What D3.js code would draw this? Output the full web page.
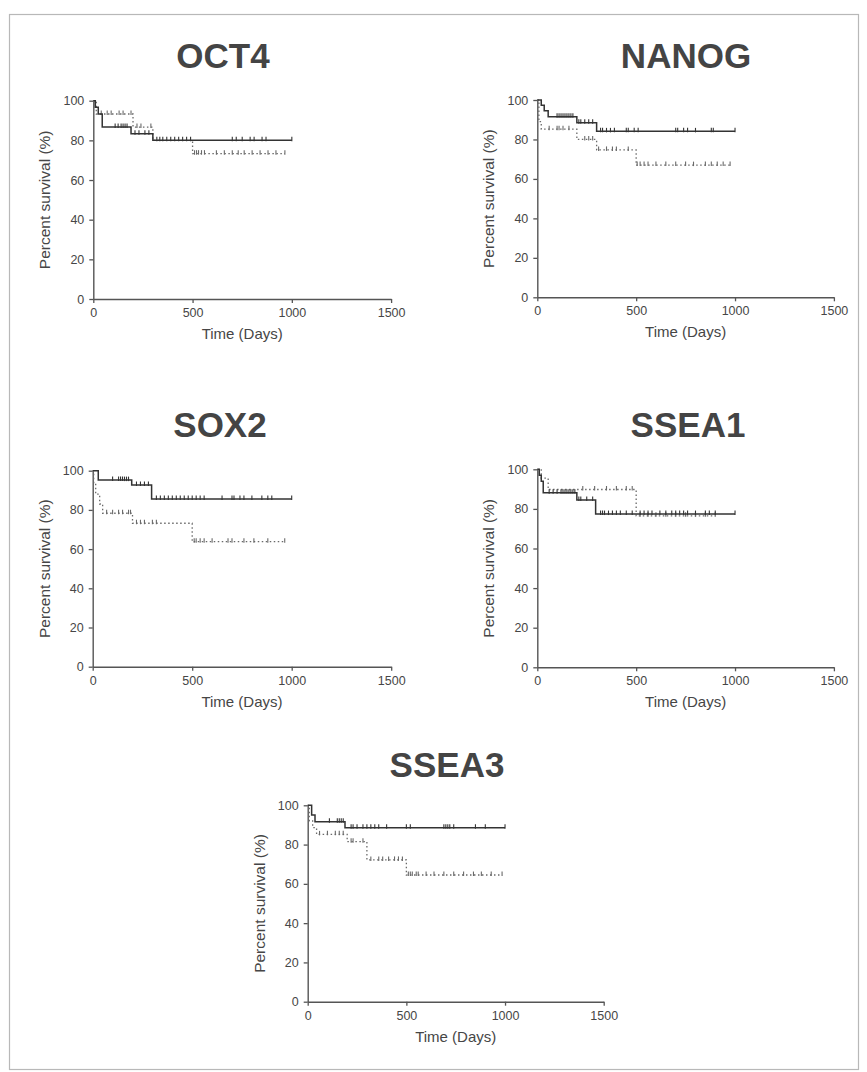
<!DOCTYPE html>
<html>
<head>
<meta charset="utf-8">
<script src="https://cdn.jsdelivr.net/npm/d3@7"></script>
<style>
  html, body { margin: 0; padding: 0; background: #fff; }
  svg { display: block; }
  text { font-family: "Liberation Sans", Arial, sans-serif; fill: #464646; }
</style>
</head>
<body>
<svg id="chart" width="867" height="1072"></svg>
<script>
// ---------------- DATA ----------------
const panelNames = ["OCT4", "NANOG", "SOX2", "SSEA1", "SSEA3"];
const xTicks = [0, 500, 1000, 1500];
const yTicks = [0, 20, 40, 60, 80, 100];
const xLabel = "Time (Days)";
const yLabel = "Percent survival (%)";

// Kaplan-Meier steps: [time, percent survival]; last point = end of follow-up
const oct4Solid  = [[0,100],[10,96.7],[25,93.3],[45,86.7],[190,83.3],[300,80],[1000,80]];
const oct4Dotted = [[0,100],[15,93.3],[200,86.7],[300,80],[500,73.3],[965,73.3]];
const oct4SolidCensor  = [110,125,140,150,160,170,210,230,260,280,320,335,350,370,390,410,430,450,470,490,700,720,750,790,810,850,870,1000];
const oct4DottedCensor = [40,70,90,130,150,190,220,240,290,510,520,530,545,560,620,660,700,730,760,800,840,880,920,965];

const nanogSolid  = [[0,100],[20,97.3],[35,94.6],[55,91.5],[200,88.5],[300,84.1],[1000,84.1]];
const nanogDotted = [[0,100],[8,89],[20,85.2],[200,80],[300,74.7],[500,67],[975,67]];
const nanogSolidCensor  = [100,110,120,130,140,150,160,170,180,210,220,240,260,280,320,330,350,370,390,450,460,490,510,700,710,740,760,800,880,890,1000];
const nanogDottedCensor = [60,100,110,130,160,240,260,280,310,350,380,400,460,505,520,540,560,600,650,700,750,790,850,880,910,940,975];

const sox2Solid  = [[0,100],[28,95.2],[196,92.7],[296,85.6],[1000,85.6]];
const sox2Dotted = [[0,100],[5,93],[15,88],[35,83],[50,78.3],[200,73.2],[500,63.8],[965,63.8]];
const sox2SolidCensor  = [100,130,140,150,160,170,180,220,240,260,280,320,340,360,380,400,420,440,460,480,500,520,540,560,650,700,710,740,760,800,850,880,900,1000];
const sox2DottedCensor = [70,100,130,150,180,190,220,240,260,300,320,510,520,540,560,600,680,700,760,810,880,965];

const ssea1Solid  = [[0,100],[10,97],[20,94],[30,88.2],[200,84.5],[295,77.4],[1000,77.4]];
const ssea1Dotted = [[0,100],[20,95.5],[55,89.8],[500,76.5],[900,76.5]];
const ssea1SolidCensor  = [60,80,100,120,130,140,150,160,170,180,190,210,220,250,280,320,330,340,360,380,400,420,450,480,520,540,560,580,620,650,680,700,720,740,760,800,850,870,900,1000];
const ssea1DottedCensor = [230,290,350,400,450,480,520,560,600,650,700,750,800,850,900];

const ssea3Solid  = [[0,100],[20,95],[37,91.6],[189,88.6],[1000,88.6]];
const ssea3Dotted = [[0,100],[8,92],[25,88.6],[45,85.2],[200,81.5],[300,72.2],[500,64.5],[985,64.5]];
const ssea3SolidCensor  = [110,150,160,170,180,220,230,250,280,300,320,340,360,400,500,520,690,700,710,720,740,850,900,1000];
const ssea3DottedCensor = [60,100,140,160,180,220,230,280,320,360,380,410,440,460,480,510,520,530,550,560,600,640,690,740,790,840,880,930,985];

const seriesByPanel = {
  OCT4:  { solid: oct4Solid,  dotted: oct4Dotted,  solidCensor: oct4SolidCensor,  dottedCensor: oct4DottedCensor },
  NANOG: { solid: nanogSolid, dotted: nanogDotted, solidCensor: nanogSolidCensor, dottedCensor: nanogDottedCensor },
  SOX2:  { solid: sox2Solid,  dotted: sox2Dotted,  solidCensor: sox2SolidCensor,  dottedCensor: sox2DottedCensor },
  SSEA1: { solid: ssea1Solid, dotted: ssea1Dotted, solidCensor: ssea1SolidCensor, dottedCensor: ssea1DottedCensor },
  SSEA3: { solid: ssea3Solid, dotted: ssea3Dotted, solidCensor: ssea3SolidCensor, dottedCensor: ssea3DottedCensor }
};

// ---------------- LAYOUT ----------------
const layout = {
  OCT4:  { x0: 93.3,  y0: 299,   w: 297.8, h: 198.3, tx: 223, ty: 68 },
  NANOG: { x0: 537.3, y0: 297.3, w: 296.6, h: 197.3, tx: 686, ty: 68 },
  SOX2:  { x0: 92.7,  y0: 666.7, w: 298.5, h: 196.0, tx: 220, ty: 437 },
  SSEA1: { x0: 537.3, y0: 667.3, w: 296.6, h: 198.0, tx: 688, ty: 437 },
  SSEA3: { x0: 307.7, y0: 1001.7,w: 296.0, h: 196.4, tx: 447, ty: 777 }
};

const svg = d3.select("#chart");

// outer frame
svg.append("rect")
  .attr("x", 9.5).attr("y", 14.5)
  .attr("width", 849).attr("height", 1055)
  .attr("fill", "none").attr("stroke", "#b8b8b8").attr("stroke-width", 1.2);

function survivalAt(steps, t) {
  let v = steps[0][1];
  for (const [tt, s] of steps) { if (tt <= t) v = s; }
  return v;
}

panelNames.forEach(name => {
  const L = layout[name];
  const S = seriesByPanel[name];
  const x = d3.scaleLinear().domain([0, 1500]).range([L.x0, L.x0 + L.w]);
  const y = d3.scaleLinear().domain([0, 100]).range([L.y0, L.y0 - L.h]);
  const g = svg.append("g");

  // title
  g.append("text")
    .attr("x", L.tx).attr("y", L.ty)
    .attr("text-anchor", "middle")
    .style("font-size", "35px").style("font-weight", "bold")
    .style("fill", "#444")
    .text(name);

  // axes
  const xAxis = d3.axisBottom(x).tickValues(xTicks).tickFormat(d3.format("d"))
    .tickSize(4).tickPadding(5).tickSizeOuter(0);
  const yAxis = d3.axisLeft(y).tickValues(yTicks).tickFormat(d3.format("d"))
    .tickSize(4).tickPadding(5).tickSizeOuter(0);
  const gx = g.append("g").attr("transform", `translate(0,${L.y0})`).call(xAxis);
  const gy = g.append("g").attr("transform", `translate(${L.x0},0)`).call(yAxis);
  [gx, gy].forEach(a => {
    a.select(".domain").attr("stroke", "#555").attr("stroke-width", 1.4);
    a.selectAll(".tick line").attr("stroke", "#555").attr("stroke-width", 1.3);
    a.selectAll(".tick text").style("font-size", "12.5px").style("fill", "#464646")
      .attr("font-family", "Liberation Sans, Arial, sans-serif");
  });

  // axis titles
  g.append("text")
    .attr("x", L.x0 + L.w / 2).attr("y", L.y0 + 40)
    .attr("text-anchor", "middle")
    .style("font-size", "15px")
    .text(xLabel);
  g.append("text")
    .attr("transform", `translate(${L.x0 - 43},${L.y0 - L.h / 2}) rotate(-90)`)
    .attr("text-anchor", "middle")
    .style("font-size", "15.5px")
    .text(yLabel);

  const line = d3.line().x(d => x(d[0])).y(d => y(d[1])).curve(d3.curveStepAfter);

  // dotted series
  g.append("path").datum(S.dotted)
    .attr("d", line).attr("fill", "none")
    .attr("stroke", "#6a6a6a").attr("stroke-width", 1.3)
    .attr("stroke-dasharray", "1.5,2.5");
  g.selectAll(null).data(S.dottedCensor).enter().append("line")
    .attr("x1", d => x(d)).attr("x2", d => x(d))
    .attr("y1", d => y(survivalAt(S.dotted, d)) - 3.5)
    .attr("y2", d => y(survivalAt(S.dotted, d)) + 1)
    .attr("stroke", "#6a6a6a").attr("stroke-width", 1.1);

  // solid series
  g.append("path").datum(S.solid)
    .attr("d", line).attr("fill", "none")
    .attr("stroke", "#333").attr("stroke-width", 1.5);
  g.selectAll(null).data(S.solidCensor).enter().append("line")
    .attr("x1", d => x(d)).attr("x2", d => x(d))
    .attr("y1", d => y(survivalAt(S.solid, d)) - 3.5)
    .attr("y2", d => y(survivalAt(S.solid, d)) + 1)
    .attr("stroke", "#333").attr("stroke-width", 1.1);
});
</script>
</body>
</html>
